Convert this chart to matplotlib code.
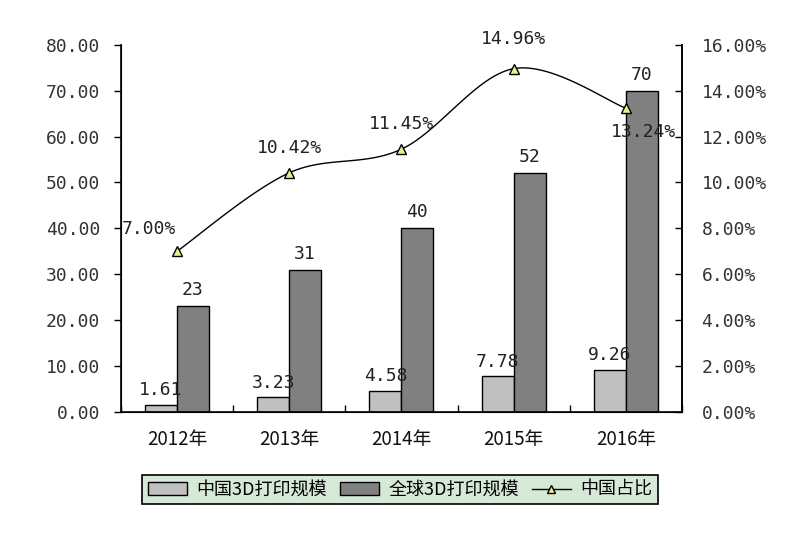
import numpy as np
import matplotlib
matplotlib.use('Agg')
import matplotlib.pyplot as plt
from matplotlib.patches import Patch
from matplotlib.lines import Line2D

plt.rcParams['font.family'] = ['DejaVu Sans Mono', 'Noto Sans CJK SC']

years = ['2012年', '2013年', '2014年', '2015年', '2016年']
china = [1.61, 3.23, 4.58, 7.78, 9.26]
world = [23, 31, 40, 52, 70]
share = [7.00, 10.42, 11.45, 14.96, 13.24]
share_labels = ['7.00%', '10.42%', '11.45%', '14.96%', '13.24%']
left_ticks = [0, 10, 20, 30, 40, 50, 60, 70, 80]
right_ticks = [0, 2, 4, 6, 8, 10, 12, 14, 16]

# label offsets (points) for the share labels, like the excel layout
share_offsets = [(-20, 16), (0, 18), (0, 18), (0, 21), (13, -17)]

light = '#c0c0c0'
dark = '#808080'
fs = 13

fig = plt.figure(figsize=(8, 5.33), dpi=100)
ax = fig.add_axes([0.151, 0.227, 0.7015, 0.689])
x = np.arange(len(years))
w = 0.285

b1 = ax.bar(x - w / 2, china, w, color=light, edgecolor='black', linewidth=1)
b2 = ax.bar(x + w / 2, world, w, color=dark, edgecolor='black', linewidth=1)

for xi, v in zip(x, china):
    ax.annotate(f'{v:.2f}', (xi - w / 2, v), xytext=(0, 4), textcoords='offset points',
                ha='center', va='bottom', fontsize=fs, color='#222222')
for xi, v in zip(x, world):
    ax.annotate(f'{v}', (xi + w / 2, v), xytext=(0, 5), textcoords='offset points',
                ha='center', va='bottom', fontsize=fs, color='#222222')

ax.set_xlim(-0.5, len(years) - 0.5)
ax.set_ylim(0, 80)
ax.set_yticks(left_ticks)
ax.set_yticklabels([f'{t:.2f}' for t in left_ticks])
ax.set_xticks(x)
ax.set_xticklabels(years, family=['Noto Sans CJK SC'], fontsize=13.5, color='#111111')
ax.set_xticks(np.arange(len(years) + 1) - 0.5, minor=True)
ax.tick_params(axis='x', which='major', length=0, pad=12)
ax.tick_params(axis='x', which='minor', direction='in', length=5, width=1)
ax.tick_params(axis='y', direction='out', length=5, width=1, pad=10, labelsize=fs,
               labelcolor='#333333')
ax.spines['top'].set_visible(False)
for s in ['left', 'right', 'bottom']:
    ax.spines[s].set_linewidth(1.2)

ax2 = ax.twinx()
ax2.set_ylim(0, 16)
ax2.set_yticks(right_ticks)
ax2.set_yticklabels([f'{t:.2f}%' for t in right_ticks])
ax2.tick_params(axis='y', direction='in', length=5, width=1, pad=14, labelsize=fs,
                labelcolor='#333333')
ax2.spines['top'].set_visible(False)
ax2.spines['right'].set_linewidth(1.2)

# smooth line like excel: cubic bezier through the points, done in pixel space
pts = ax2.transData.transform(np.column_stack([x, share]))
ext = np.vstack([pts[0], pts, pts[-1]])
curve = []
t = np.linspace(0, 1, 30)[:, None]
for i in range(len(pts) - 1):
    p0 = ext[i + 1]
    p3 = ext[i + 2]
    c1 = p0 + (ext[i + 2] - ext[i]) / 6
    c2 = p3 - (ext[i + 3] - ext[i + 1]) / 6
    seg = (1 - t) ** 3 * p0 + 3 * (1 - t) ** 2 * t * c1 + 3 * (1 - t) * t ** 2 * c2 + t ** 3 * p3
    curve.append(seg)
curve = ax2.transData.inverted().transform(np.vstack(curve))
ax2.plot(curve[:, 0], curve[:, 1], color='black', linewidth=1)
ax2.plot(x, share, linestyle='none', marker='^', markersize=7,
         markerfacecolor='#eeee88', markeredgecolor='black', markeredgewidth=1)

for xi, v, lab, off in zip(x, share, share_labels, share_offsets):
    ax2.annotate(lab, (xi, v), xytext=off, textcoords='offset points',
                 ha='center', va='center', fontsize=fs, color='#222222')

handles = [Patch(facecolor=light, edgecolor='black'),
           Patch(facecolor=dark, edgecolor='black'),
           Line2D([0], [0], color='black', linewidth=1, marker='^', markersize=6,
                  markerfacecolor='#eeee88', markeredgecolor='black')]
leg = fig.legend(handles, ['中国3D打印规模', '全球3D打印规模', '中国占比'],
                 loc='center', bbox_to_anchor=(0.5, 0.081), ncol=3,
                 prop={'family': ['Noto Sans CJK SC'], 'size': 13},
                 frameon=True, fancybox=False, facecolor='#d6e8d6', edgecolor='black',
                 handlelength=2.2, handletextpad=0.5, columnspacing=0.7,
                 borderpad=0.3, framealpha=1)
leg.get_frame().set_linewidth(1.2)

fig.savefig('out.png', dpi=100)
